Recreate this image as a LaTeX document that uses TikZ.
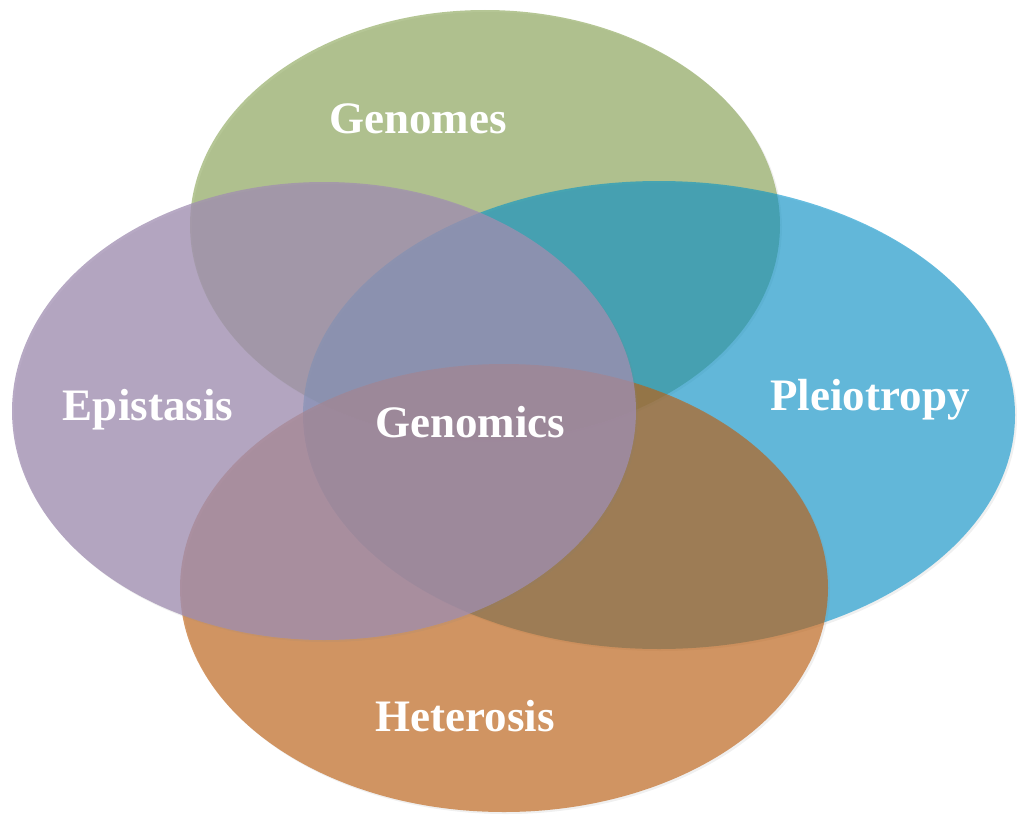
\documentclass[tikz,border=0pt]{standalone}
\usepackage{fontspec}
\setmainfont{Liberation Serif}
\usepackage{tikz}
\usepackage{xcolor}
\usetikzlibrary{shapes.geometric,shadows}

\definecolor{genomesgreen}{RGB}{132,160,78}
\definecolor{pleioblue}{RGB}{0,145,202}
\definecolor{heteroorange}{RGB}{190,95,15}
\definecolor{epipurple}{RGB}{160,142,177}

\tikzset{
    blob/.style={ellipse, draw=none, inner sep=0pt,
        drop shadow={shadow xshift=2pt, shadow yshift=-2pt, opacity=0.12}},
    label/.style={text=white, font=\fontsize{45}{50}\selectfont\bfseries, anchor=base}
}

\begin{document}
\begin{tikzpicture}[x=1pt, y=-1pt]
    \useasboundingbox (0,0) rectangle (1017,816);

    % Circles
    \node[blob, fill=genomesgreen, fill opacity=0.6,
        minimum width=590pt, minimum height=430pt] (genomes) at (485,225) {};
    \node[blob, fill=pleioblue, fill opacity=0.59,
        minimum width=712pt, minimum height=468pt] (pleiotropy) at (659,415) {};
    \node[blob, fill=heteroorange, fill opacity=0.63,
        minimum width=648pt, minimum height=448pt] (heterosis) at (504,588) {};
    \node[blob, fill=epipurple, fill opacity=0.76,
        minimum width=624pt, minimum height=458pt] (epistasis) at (324,411) {};

    % Labels
    \node[label] (genomestext) at (418,133) {Genomes};
    \node[label] (epistext) at (148,420) {Epistasis};
    \node[label] (genomicstext) at (470,437) {Genomics};
    \node[label] (pleiotext) at (870,410) {Pleiotropy};
    \node[label] (heterotext) at (465,731) {Heterosis};
\end{tikzpicture}
\end{document}
